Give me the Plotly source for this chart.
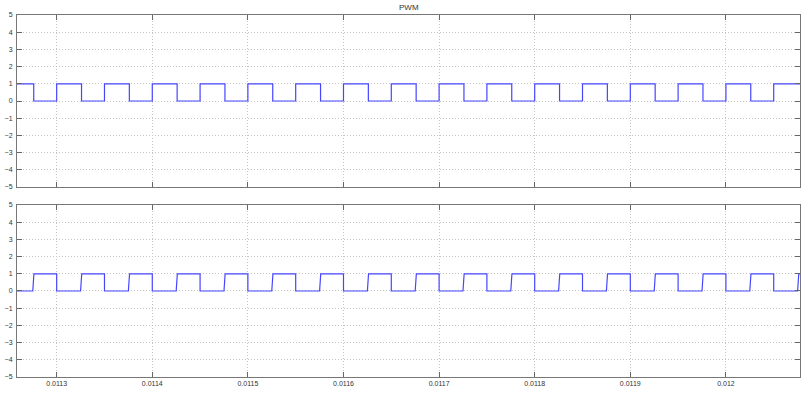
import plotly.graph_objects as go
from plotly.subplots import make_subplots

# ---- data ----
x_start = 0.0112585
x_end = 0.0120775

top_start_level = 1
top_fall = [0.011276, 0.011326, 0.011376, 0.011426, 0.011476, 0.011526, 0.011576, 0.011626,
            0.011676, 0.011726, 0.011776, 0.011826, 0.011876, 0.011926, 0.011976, 0.012026]
top_rise = [0.01130, 0.01135, 0.01140, 0.01145, 0.01150, 0.01155, 0.01160, 0.01165,
            0.01170, 0.01175, 0.01180, 0.01185, 0.01190, 0.01195, 0.01200, 0.01205]

bot_start_level = 0
bot_rise = [0.011275, 0.011325, 0.011375, 0.011425, 0.011475, 0.011525, 0.011575, 0.011625,
            0.011675, 0.011725, 0.011775, 0.011825, 0.011875, 0.011925, 0.011975, 0.012025, 0.012075]
bot_fall = [0.01130, 0.01135, 0.01140, 0.01145, 0.01150, 0.01155, 0.01160, 0.01165,
            0.01170, 0.01175, 0.01180, 0.01185, 0.01190, 0.01195, 0.01200, 0.01205]

x_tickvals = [0.0113, 0.0114, 0.0115, 0.0116, 0.0117, 0.0118, 0.0119, 0.0120]
x_ticktext = ["0.0113", "0.0114", "0.0115", "0.0116", "0.0117", "0.0118", "0.0119", "0.012"]
y_tickvals = [-5, -4, -3, -2, -1, 0, 1, 2, 3, 4, 5]
title_text = "PWM"


def build_wave(start_level, rises, falls, ramp=0.0):
    events = sorted([(t, 1) for t in rises] + [(t, 0) for t in falls])
    xs, ys = [x_start], [start_level]
    lvl = start_level
    for t, new in events:
        xs.append(t); ys.append(lvl)
        xs.append(t + (ramp if new == 1 else 0.0)); ys.append(new)
        lvl = new
    xs.append(x_end); ys.append(lvl)
    return xs, ys


tx, ty = build_wave(top_start_level, top_rise, top_fall)
bx, by = build_wave(bot_start_level, bot_rise, bot_fall, ramp=0.0000012)

fig = make_subplots(rows=2, cols=1, vertical_spacing=0.0497)
line_color = "rgb(70,70,255)"
fig.add_trace(go.Scatter(x=tx, y=ty, mode="lines", line=dict(color=line_color, width=1.2),
                         showlegend=False, hoverinfo="skip"), row=1, col=1)
fig.add_trace(go.Scatter(x=bx, y=by, mode="lines", line=dict(color=line_color, width=1.2),
                         showlegend=False, hoverinfo="skip"), row=2, col=1)

font = dict(family="Liberation Sans, Arial, sans-serif", size=7, color="#333333")
grid_dash = "1px,2px"
common_x = dict(range=[x_start, x_end], tickvals=x_tickvals, ticktext=x_ticktext,
                showgrid=True, gridcolor="#c4c4c4", griddash=grid_dash, gridwidth=1,
                showline=True, linecolor="#777777", linewidth=1, mirror="ticks",
                ticks="inside", ticklen=5, tickcolor="#666666", zeroline=False,
                tickfont=font, automargin=False)
common_y = dict(range=[-5, 5], tickvals=y_tickvals,
                showgrid=True, gridcolor="#c4c4c4", griddash=grid_dash, gridwidth=1,
                showline=True, linecolor="#777777", linewidth=1, mirror="ticks",
                ticks="inside", ticklen=5, tickcolor="#666666", zeroline=False,
                tickfont=font, automargin=False, ticklabelstandoff=2)

fig.update_xaxes(**common_x)
fig.update_xaxes(showticklabels=False, row=1, col=1)
fig.update_yaxes(**common_y)

fig.update_layout(
    width=809, height=396,
    margin=dict(l=17, r=9, t=15, b=19, autoexpand=False),
    plot_bgcolor="white", paper_bgcolor="white",
    font=font,
)
fig.add_annotation(text=title_text, xref="paper", yref="paper", x=0.5, y=1,
                   yanchor="bottom", yshift=1, showarrow=False,
                   font=dict(family="Liberation Sans, Arial, sans-serif", size=8, color="#333333"))

fig.write_html("out.html",
               config={"displayModeBar": False},
               post_script="document.body.style.margin='0';document.body.style.overflow='hidden';")
